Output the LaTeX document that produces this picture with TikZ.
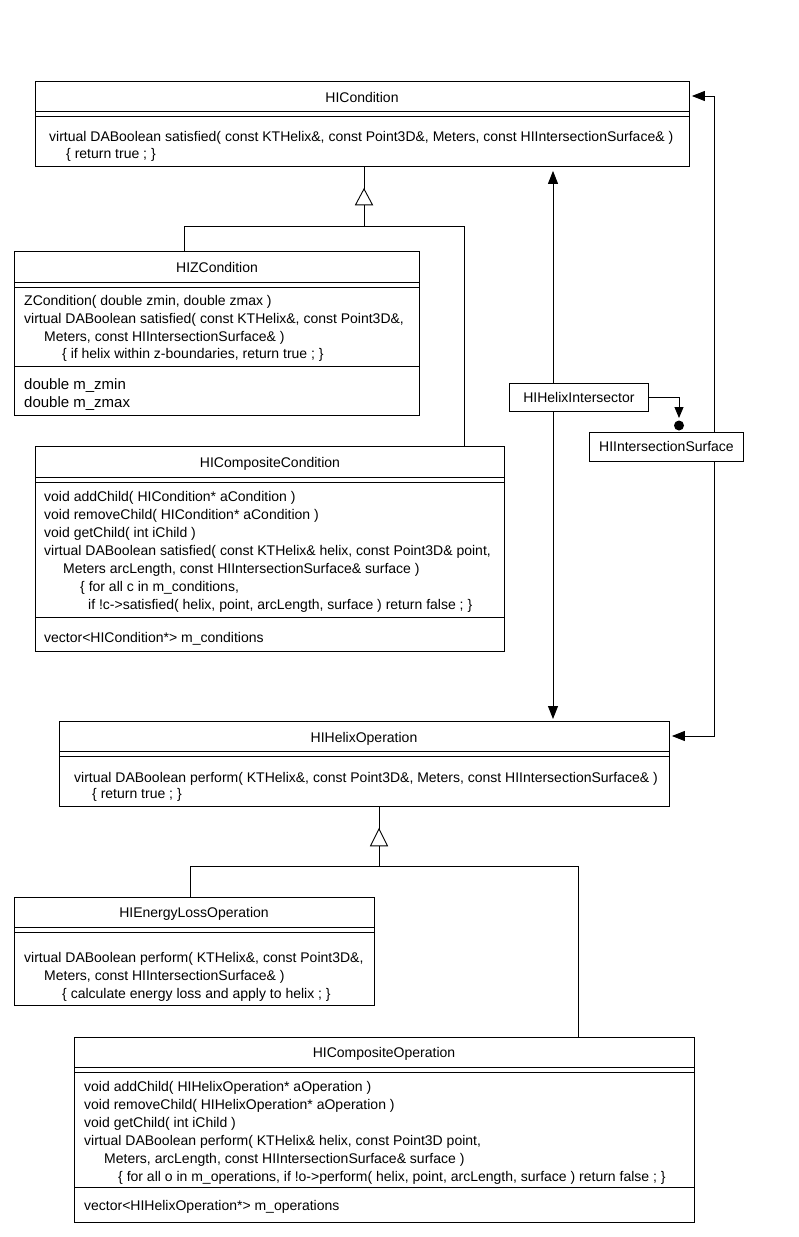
\documentclass[tikz,border=0pt]{standalone}
\usepackage{fontspec}
\setmainfont{Liberation Sans}
\usetikzlibrary{arrows.meta,calc}
\begin{document}
\begin{tikzpicture}[x=1pt,y=-1pt,
  box/.style={draw, line width=0.9pt, inner sep=0pt, anchor=north west},
  txt/.style={font=\fontsize{14}{18}\selectfont, inner sep=0pt, anchor=base west},
  ttl/.style={font=\fontsize{14}{18}\selectfont, inner sep=0pt, anchor=base},
  conn/.style={line width=0.9pt},
  nav/.style={conn, -{Triangle[length=13pt,width=10pt]}},
  small/.style={draw, line width=0.9pt, inner sep=0pt, anchor=north west, font=\fontsize{14}{18}\selectfont},
]
\useasboundingbox (0,0) rectangle (798,1237);

% ---------- HICondition
\node[box, minimum width=654pt, minimum height=85pt] (hcond) at (35,81) {};
\draw[conn] ([yshift=-30pt]hcond.north west) -- ([yshift=-30pt]hcond.north east);
\draw[conn] ([yshift=-35pt]hcond.north west) -- ([yshift=-35pt]hcond.north east);
\node[ttl] (hcond-n) at (362,102) {HICondition};
\node[txt] (hcond-1) at (49,141) {virtual DABoolean satisfied( const KTHelix\&, const Point3D\&, Meters, const HIIntersectionSurface\& )};
\node[txt] (hcond-2) at (66,158) {\{ return true ; \}};

% ---------- HIZCondition
\node[box, minimum width=405pt, minimum height=164pt] (hzc) at (14,251) {};
\draw[conn] ([yshift=-31pt]hzc.north west) -- ([yshift=-31pt]hzc.north east);
\draw[conn] ([yshift=-36pt]hzc.north west) -- ([yshift=-36pt]hzc.north east);
\draw[conn] ([yshift=-115pt]hzc.north west) -- ([yshift=-115pt]hzc.north east);
\node[ttl] (hzc-n) at (217,272) {HIZCondition};
\node[txt] (hzc-1) at (24,305) {ZCondition( double zmin, double zmax )};
\node[txt] (hzc-2) at (24,323) {virtual DABoolean satisfied( const KTHelix\&, const Point3D\&,};
\node[txt] (hzc-3) at (44,341) {Meters, const HIIntersectionSurface\& )};
\node[txt] (hzc-4) at (62,358) {\{ if helix within z-boundaries, return true ; \}};
\node[txt, font=\fontsize{15}{18}\selectfont] (hzc-5) at (24,389) {double m\_zmin};
\node[txt, font=\fontsize{15}{18}\selectfont] (hzc-6) at (24,407) {double m\_zmax};

% ---------- HICompositeCondition
\node[box, minimum width=469pt, minimum height=205pt] (hcc) at (35,446) {};
\draw[conn] ([yshift=-31pt]hcc.north west) -- ([yshift=-31pt]hcc.north east);
\draw[conn] ([yshift=-36pt]hcc.north west) -- ([yshift=-36pt]hcc.north east);
\draw[conn] ([yshift=-171pt]hcc.north west) -- ([yshift=-171pt]hcc.north east);
\node[ttl] (hcc-n) at (270,467) {HICompositeCondition};
\node[txt] (hcc-1) at (44,501) {void addChild( HICondition* aCondition )};
\node[txt] (hcc-2) at (44,519) {void removeChild( HICondition* aCondition )};
\node[txt] (hcc-3) at (44,537) {void getChild( int iChild )};
\node[txt] (hcc-4) at (44,555) {virtual DABoolean satisfied( const KTHelix\& helix, const Point3D\& point,};
\node[txt] (hcc-5) at (63,573) {Meters arcLength, const HIIntersectionSurface\& surface )};
\node[txt] (hcc-6) at (80,591) {\{ for all c in m\_conditions,};
\node[txt] (hcc-7) at (88,609) {if !c->satisfied( helix, point, arcLength, surface ) return false ; \}};
\node[txt] (hcc-8) at (44,642) {vector<HICondition*> m\_conditions};

% ---------- HIHelixIntersector / HIIntersectionSurface
\node[small, minimum width=139pt, minimum height=28pt] (hint) at (509,383) {HIHelixIntersector};
\node[small, minimum width=154pt, minimum height=29pt] (surf) at (589,432) {HIIntersectionSurface};

% ---------- HIHelixOperation
\node[box, minimum width=610pt, minimum height=85pt] (hop) at (59,721) {};
\draw[conn] ([yshift=-30pt]hop.north west) -- ([yshift=-30pt]hop.north east);
\draw[conn] ([yshift=-35pt]hop.north west) -- ([yshift=-35pt]hop.north east);
\node[ttl] (hop-n) at (364,742) {HIHelixOperation};
\node[txt] (hop-1) at (74,782) {virtual DABoolean perform( KTHelix\&, const Point3D\&, Meters, const HIIntersectionSurface\& )};
\node[txt] (hop-2) at (92,798) {\{ return true ; \}};

% ---------- HIEnergyLossOperation
\node[box, minimum width=360pt, minimum height=108pt] (hel) at (14,897) {};
\draw[conn] ([yshift=-30pt]hel.north west) -- ([yshift=-30pt]hel.north east);
\draw[conn] ([yshift=-35pt]hel.north west) -- ([yshift=-35pt]hel.north east);
\node[ttl] (hel-n) at (194,917) {HIEnergyLossOperation};
\node[txt] (hel-1) at (24,962) {virtual DABoolean perform( KTHelix\&, const Point3D\&,};
\node[txt] (hel-2) at (44,980) {Meters, const HIIntersectionSurface\& )};
\node[txt] (hel-3) at (62,998) {\{ calculate energy loss and apply to helix ; \}};

% ---------- HICompositeOperation
\node[box, minimum width=620pt, minimum height=185pt] (hco) at (74,1037) {};
\draw[conn] ([yshift=-30pt]hco.north west) -- ([yshift=-30pt]hco.north east);
\draw[conn] ([yshift=-35pt]hco.north west) -- ([yshift=-35pt]hco.north east);
\draw[conn] ([yshift=-150pt]hco.north west) -- ([yshift=-150pt]hco.north east);
\node[ttl] (hco-n) at (384,1057) {HICompositeOperation};
\node[txt] (hco-1) at (84,1091) {void addChild( HIHelixOperation* aOperation )};
\node[txt] (hco-2) at (84,1109) {void removeChild( HIHelixOperation* aOperation )};
\node[txt] (hco-3) at (84,1127) {void getChild( int iChild )};
\node[txt] (hco-4) at (84,1145) {virtual DABoolean perform( KTHelix\& helix, const Point3D point,};
\node[txt] (hco-5) at (104,1163) {Meters, arcLength, const HIIntersectionSurface\& surface )};
\node[txt] (hco-6) at (118,1181) {\{ for all o in m\_operations, if !o->perform( helix, point, arcLength, surface ) return false ; \}};
\node[txt] (hco-7) at (84,1210) {vector<HIHelixOperation*> m\_operations};

% ---------- generalization: HICondition
\coordinate (g1) at (364,226);
\coordinate (d1) at (184,0);
\coordinate (d2) at (464,0);
\draw[conn] (hcond.south -| g1) -- (g1);
\draw[conn, fill=white] ($(hcond.south -| g1)+(0,22)$) -- ++(-8.5,16) -- ++(17,0) -- cycle;
\draw[conn] (g1) -| (hzc.north -| d1);
\draw[conn] (g1) -| (hcc.north -| d2);

% ---------- generalization: HIHelixOperation
\coordinate (g2) at (379,866);
\coordinate (d3) at (190,0);
\coordinate (d4) at (578,0);
\draw[conn] (hop.south -| g2) -- (g2);
\draw[conn, fill=white] ($(hop.south -| g2)+(0,22)$) -- ++(-8.5,17) -- ++(17,0) -- cycle;
\draw[conn] (g2) -| (hel.north -| d3);
\draw[conn] (g2) -| (hco.north -| d4);

% ---------- associations
\coordinate (vx) at (553,0);
\draw[nav, shorten >=4pt] (hint.north -| vx) -- (hcond.south -| vx);
\draw[nav, shorten >=2pt] (hint.south -| vx) -- (hop.north -| vx);
\coordinate (rx) at (714,0);
\coordinate (ry1) at (0,96);
\coordinate (ry2) at (0,736);
\draw[nav, shorten >=2pt] (surf.north -| rx) |- (hcond.east |- ry1);
\draw[nav, shorten >=2pt] (surf.south -| rx) |- (hop.east |- ry2);
\coordinate (sx) at (679,0);
\coordinate (stip) at ($(surf.north -| sx)+(0,-14)$);
\draw[conn, -{Triangle[length=11pt,width=9pt]}] (hint.east) -| (stip);
\fill ($(surf.north -| sx)+(0,-6.5)$) circle[radius=5pt];
\end{tikzpicture}
\end{document}
